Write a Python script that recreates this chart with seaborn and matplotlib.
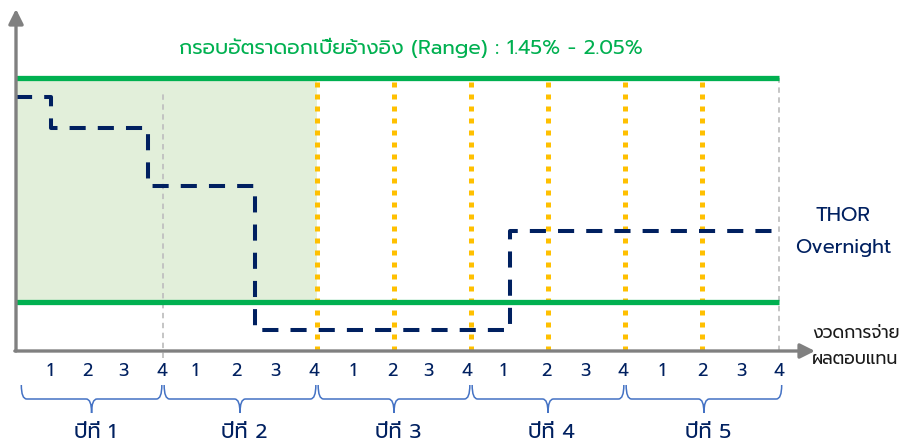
import matplotlib
matplotlib.use("Agg")
import matplotlib.pyplot as plt
from matplotlib.path import Path
from matplotlib.patches import PathPatch
import seaborn as sns

# --- data ---
quarter_labels = ['1', '2', '3', '4'] * 5
quarter_pos = [1.06, 2.03, 2.96, 3.97, 4.83, 5.92, 6.91, 7.92, 8.91, 9.95,
               10.9, 11.9, 12.83, 13.95, 14.96, 15.95, 16.96, 18.0, 19.01, 20.0]
year_labels = ['ปีที่ 1', 'ปีที่ 2', 'ปีที่ 3', 'ปีที่ 4', 'ปีที่ 5']
year_bounds = [0.29, 4, 8, 12, 16, 20.1]
range_low = 1.45
range_high = 2.05
shade_end = 8
payment_q = [8, 10, 12, 14, 16, 18]
year_end_q = [4, 20]
thor_x = [0.18, 1.1, 3.6, 6.4, 13.0, 20.0]
thor_y = [2.00, 1.915, 1.76, 1.375, 1.64, 1.64]
title = 'กรอบอัตราดอกเบี้ยอ้างอิง (Range) : 1.45% - 2.05%'

GREEN = '#00b050'
NAVY = '#002060'
YELLOW = '#ffc000'
GRAY = '#808080'
BRACE = '#4472c4'

sns.set_style('white')
plt.rcParams['font.family'] = ['Prompt', 'DejaVu Sans']


# pixel helpers for layout only (figure is 904x445, axes fill it)
def px(p):
    return (p - 9) / 38.5


def py(p):
    return range_high - (p - 78) / 373.33


fig = plt.figure(figsize=(9.04, 4.45), dpi=100)
ax = fig.add_axes([0, 0, 1, 1])
ax.set_xlim(px(0), px(904))
ax.set_ylim(py(445), py(0))
ax.axis('off')

x_axis = px(16)
base = py(351)

# shaded part of the range
ax.fill_between([x_axis, shade_end], range_low, range_high, color='#e2efda', lw=0, zorder=0)

# vertical guides
for q in payment_q:
    ax.vlines(q, base, range_high, color=YELLOW, lw=3.6, linestyles=(0, (1, 1.4)), zorder=2)
ax.vlines(year_end_q[0], py(358), py(93), color='#c0c0c0', lw=1.3, linestyles=(0, (3, 2.5)), zorder=1)
ax.vlines(year_end_q[1], base, range_high, color='#c0c0c0', lw=1.3, linestyles=(0, (3, 2.5)), zorder=1)

# range lines
ax.hlines([range_low, range_high], x_axis, year_end_q[1], color=GREEN, lw=3.8, zorder=3)

# THOR overnight step line
sns.lineplot(x=thor_x, y=thor_y, ax=ax, drawstyle='steps-post', color=NAVY,
             lw=2.9, linestyle=(0, (4, 3)), zorder=4, sort=False)

# axes arrows
arrow = dict(arrowstyle='-|>', mutation_scale=22, lw=2.4, color=GRAY, shrinkA=0, shrinkB=0)
ax.annotate('', xy=(x_axis, py(9)), xytext=(x_axis, base), arrowprops=arrow, zorder=5)
ax.annotate('', xy=(px(815), base), xytext=(x_axis - 0.03, base), arrowprops=arrow, zorder=5)

# texts
ax.text(px(411), py(48), title, color=GREEN, fontsize=14.8, ha='center', va='center')
ax.text(px(843), py(216), 'THOR', color=NAVY, fontsize=14.5, ha='center', va='center')
ax.text(px(843), py(248), 'Overnight', color=NAVY, fontsize=14.2, ha='center', va='center')
ax.text(px(812), py(333), 'งวดการจ่าย', color='#1a1a1a', fontsize=12.5, ha='left', va='center')
ax.text(px(812), py(360), 'ผลตอบแทน', color='#1a1a1a', fontsize=12.5, ha='left', va='center')

for q, lab in zip(quarter_pos, quarter_labels):
    ax.text(q, py(372), lab, color=NAVY, fontsize=13, ha='center', va='center')

# curly braces under each year
y_top, y_bot, y_tip = py(385), py(399), py(413)
r = 0.14
for i, lab in enumerate(year_labels):
    x0 = year_bounds[i] + 0.03
    x1 = year_bounds[i + 1] - 0.03
    xm = (x0 + x1) / 2
    verts = [(x0, y_top), (x0, y_bot), (x0 + r, y_bot), (xm - r, y_bot),
             (xm, y_bot), (xm, y_tip),
             (xm, y_tip), (xm, y_bot), (xm + r, y_bot), (x1 - r, y_bot),
             (x1, y_bot), (x1, y_top)]
    codes = [Path.MOVETO, Path.CURVE3, Path.CURVE3, Path.LINETO,
             Path.CURVE3, Path.CURVE3,
             Path.MOVETO, Path.CURVE3, Path.CURVE3, Path.LINETO,
             Path.CURVE3, Path.CURVE3]
    ax.add_patch(PathPatch(Path(verts, codes), fill=False, edgecolor=BRACE, lw=1.1))
    ax.text(xm + 0.1, py(433), lab, color=NAVY, fontsize=15, ha='center', va='center')

fig.savefig('out.png', dpi=100)
